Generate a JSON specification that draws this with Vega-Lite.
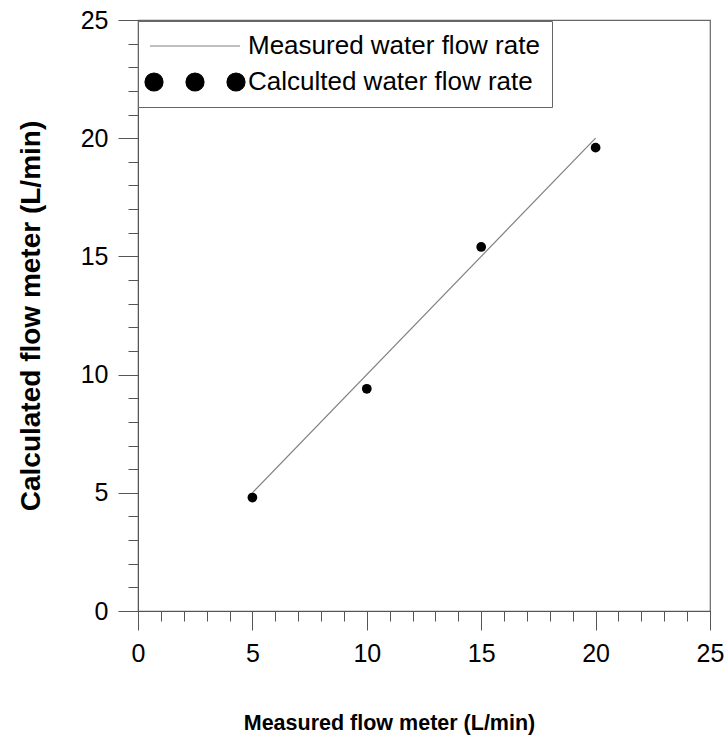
{
  "$schema": "https://vega.github.io/schema/vega-lite/v6.json",
  "autosize": {"type": "none"},
  "padding": {"left": 138, "top": 20, "right": 18, "bottom": 127},
  "width": 572,
  "height": 591,
  "background": "white",
  "config": {
    "view": {"stroke": "#666666", "strokeWidth": 1.2},
    "font": "Liberation Sans",
    "axis": {"grid": false, "labelFont": "Liberation Sans", "titleFont": "Liberation Sans", "labelColor": "black", "titleColor": "black", "tickColor": "#555555", "domainColor": "#555555"}
  },
  "data": {
    "values": [
      {"series": "Measured water flow rate", "x": 5, "y": 5},
      {"series": "Measured water flow rate", "x": 20, "y": 20},
      {"series": "Calculted water flow rate", "x": 5, "y": 4.8},
      {"series": "Calculted water flow rate", "x": 10, "y": 9.4},
      {"series": "Calculted water flow rate", "x": 15, "y": 15.4},
      {"series": "Calculted water flow rate", "x": 20, "y": 19.6}
    ]
  },
  "layer": [
    {
      "transform": [{"filter": "datum.series === 'Measured water flow rate'"}],
      "mark": {"type": "line", "strokeWidth": 1.2},
      "encoding": {
        "x": {
          "field": "x", "type": "quantitative",
          "scale": {"domain": [0, 25], "nice": false},
          "axis": {
            "orient": "bottom", "values": [0, 5, 10, 15, 20, 25], "tickSize": 19, "labelPadding": 11,
            "labelFontSize": 25, "title": "Measured flow meter (L/min)", "titleFontSize": 21.5, "titleFontWeight": "bold",
            "titleX": 251, "titleY": 118, "titleBaseline": "alphabetic", "titleAlign": "center", "labelFlush": false
          }
        },
        "y": {
          "field": "y", "type": "quantitative",
          "scale": {"domain": [0, 25], "nice": false},
          "axis": {
            "orient": "left", "values": [0, 5, 10, 15, 20, 25], "tickSize": 20, "labelPadding": 10,
            "labelFontSize": 25, "title": "Calculated flow meter (L/min)", "titleFontSize": 28, "titleFontWeight": "bold",
            "titleX": -99, "titleY": 295.5, "titleBaseline": "alphabetic", "titleAlign": "center", "titleAngle": 270, "labelFlush": false
          }
        },
        "color": {
          "field": "series", "type": "nominal",
          "scale": {"domain": ["Measured water flow rate", "Calculted water flow rate"], "range": ["#808080", "#000000"]},
          "legend": {
            "title": null, "orient": "none", "legendX": 0, "legendY": 1,
            "fillColor": "white", "strokeColor": "#666666", "padding": 12, "rowPadding": 10,
            "symbolSize": 400, "symbolOffset": 32, "labelOffset": 40, "labelLimit": 500,
            "labelFont": "Liberation Sans", "labelFontSize": 26, "labelColor": "black",
            "encode": {
              "symbols": {
                "update": {
                  "shape": {"signal": "datum.value === 'Measured water flow rate' ? 'M-4.5,0L4.5,0' : 'M-5,0a0.9,0.9 0 1,0 1.8,0a0.9,0.9 0 1,0 -1.8,0ZM-0.9,0a0.9,0.9 0 1,0 1.8,0a0.9,0.9 0 1,0 -1.8,0ZM3.2,0a0.9,0.9 0 1,0 1.8,0a0.9,0.9 0 1,0 -1.8,0Z'"},
                  "fill": {"signal": "datum.value === 'Measured water flow rate' ? 'transparent' : 'black'"},
                  "stroke": {"signal": "datum.value === 'Measured water flow rate' ? '#808080' : 'transparent'"},
                  "strokeWidth": {"value": 1.2},
                  "opacity": {"value": 1}
                }
              }
            }
          }
        }
      }
    },
    {
      "transform": [{"filter": "datum.series === 'Calculted water flow rate'"}],
      "mark": {"type": "point", "filled": true, "size": 95, "opacity": 1},
      "encoding": {
        "x": {
          "field": "x", "type": "quantitative",
          "scale": {"domain": [0, 25], "nice": false},
          "axis": {"orient": "bottom", "values": [1, 2, 3, 4, 6, 7, 8, 9, 11, 12, 13, 14, 16, 17, 18, 19, 21, 22, 23, 24], "tickSize": 10, "labels": false, "domain": false, "title": null}
        },
        "y": {
          "field": "y", "type": "quantitative",
          "scale": {"domain": [0, 25], "nice": false},
          "axis": {"orient": "left", "values": [1, 2, 3, 4, 6, 7, 8, 9, 11, 12, 13, 14, 16, 17, 18, 19, 21, 22, 23, 24], "tickSize": 10, "labels": false, "domain": false, "title": null}
        },
        "color": {"field": "series", "type": "nominal"}
      }
    }
  ],
  "resolve": {"axis": {"x": "independent", "y": "independent"}}
}
